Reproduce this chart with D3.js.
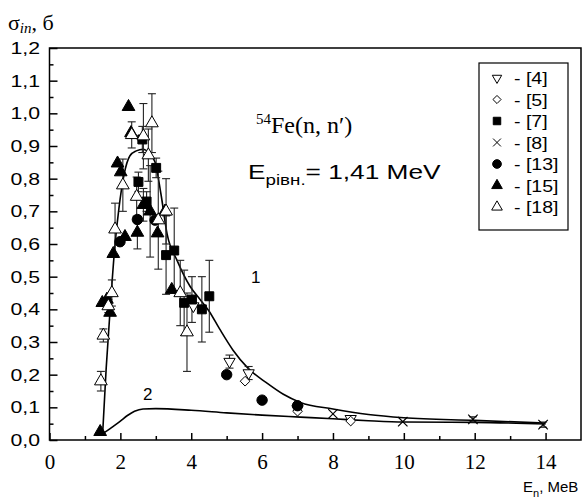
<!DOCTYPE html>
<html>
<head>
<meta charset="utf-8">
<script src="https://cdn.jsdelivr.net/npm/d3@7"></script>
<style>
  body { margin: 0; background: #fff; }
  svg { display: block; }
</style>
</head>
<body>
<div id="chart"></div>
<script>
// data: [E (MeV), sigma (b), error]
const ref4  = [[4.06,0.41,0],[5.08,0.24,0.02],[5.62,0.205,0.02],[7.0,0.095,0],[8.5,0.065,0]];
const ref5  = [[5.52,0.18,0],[7.0,0.088,0],[8.5,0.058,0]];
const ref7  = [[2.51,0.79,0.03],[2.62,0.92,0.04],[2.74,0.73,0.03],[3.01,0.833,0.03],[3.29,0.566,0.12],
               [3.52,0.58,0.13],[3.80,0.42,0.1],[4.02,0.43,0.07],[4.3,0.40,0.1],[4.51,0.44,0.11]];
const ref8  = [[8.0,0.08,0],[9.97,0.056,0],[11.95,0.063,0.008],[13.93,0.047,0.008]];
const ref13 = [[1.99,0.607,0],[2.48,0.675,0],[2.98,0.673,0],[5.0,0.2,0],[6.0,0.122,0],[7.0,0.105,0]];
const ref15 = [[1.43,0.025,0],[1.49,0.42,0],[1.62,0.43,0],[1.71,0.39,0],[1.80,0.57,0],[1.92,0.847,0],
               [2.01,0.82,0],[2.13,0.622,0],[2.23,1.02,0],[2.30,0.94,0],[2.48,0.635,0.05],[2.65,0.72,0.05],
               [2.84,0.70,0.14],[3.05,0.633,0],[3.26,0.70,0],[3.45,0.46,0]];
const ref18 = [[1.45,0.18,0.03],[1.52,0.32,0.02],[1.66,0.41,0.02],[1.76,0.45,0.04],[1.85,0.645,0.08],
               [2.07,0.78,0.08],[2.32,0.934,0.04],[2.46,0.745,0.06],[2.65,0.93,0.1],[2.79,0.872,0.08],
               [2.89,0.97,0.09],[3.07,0.673,0.15],[3.29,0.70,0.1],[3.69,0.45,0.1],[3.88,0.33,0.12]];

const curve1 = [[1.5,0.02],[1.6,0.22],[1.73,0.43],[1.85,0.6],[1.96,0.71],[2.1,0.81],[2.27,0.87],[2.45,0.885],
                [2.64,0.89],[2.8,0.88],[2.98,0.85],[3.15,0.75],[3.32,0.63],[3.6,0.55],[3.97,0.47],[4.25,0.43],
                [4.5,0.395],[4.8,0.34],[5.18,0.275],[5.6,0.22],[6.14,0.174],[6.6,0.14],[7.08,0.115],[8.0,0.095],
                [9.0,0.078],[10,0.068],[12,0.06],[14,0.052]];
const curve2 = [[1.5,0.02],[1.65,0.03],[1.8,0.042],[2.0,0.058],[2.2,0.075],[2.4,0.088],[2.64,0.095],[3.0,0.096],
                [4.0,0.091],[5.0,0.083],[6.0,0.076],[7.08,0.07],[8.0,0.065],[9.0,0.059],[10,0.055],[12,0.054],[14,0.049]];

const xMajor = [0,2,4,6,8,10,12,14];
const xMinor = [1,3,5,7,9,11,13];
const yMajor = [0,0.1,0.2,0.3,0.4,0.5,0.6,0.7,0.8,0.9,1.0,1.1,1.2];
const yMinor = [0.05,0.15,0.25,0.35,0.45,0.55,0.65,0.75,0.85,0.95,1.05,1.15];

const legendNames = ["- [4]","- [5]","- [7]","- [8]","- [13]","- [15]","- [18]"];

const W = 584, H = 500;
const x = d3.scaleLinear().domain([0,15]).range([49.5,581]);
const y = d3.scaleLinear().domain([0,1.2]).range([440,48]);

const svg = d3.select("#chart").append("svg")
  .attr("width", W).attr("height", H)
  .attr("viewBox", `0 0 ${W} ${H}`);

const fmt = v => d3.format(".1f")(v).replace(".", ",");
const serif = "'Liberation Serif', 'Times New Roman', serif";
const sans = "'Liberation Sans', Arial, sans-serif";

// x axis
const xAxis = svg.append("g").attr("transform", `translate(0,440)`)
  .call(d3.axisBottom(x).tickValues(xMajor).tickSizeInner(-7).tickSizeOuter(0).tickPadding(14).tickFormat(d3.format("d")));
xAxis.select(".domain").remove();
xAxis.selectAll("line").attr("stroke","#000").attr("stroke-width",1.5);
xAxis.selectAll("text").attr("font-family",serif).attr("font-size",21).attr("fill","#000");
svg.append("g").attr("transform", `translate(0,440)`)
  .call(d3.axisBottom(x).tickValues(xMinor).tickSizeInner(-4).tickSizeOuter(0).tickFormat(""))
  .call(g => g.select(".domain").remove())
  .selectAll("line").attr("stroke","#000").attr("stroke-width",1.5);

// y axis
const yAxis = svg.append("g").attr("transform", `translate(49.5,0)`)
  .call(d3.axisLeft(y).tickValues(yMajor).tickSizeInner(-8).tickSizeOuter(0).tickFormat(""));
yAxis.select(".domain").remove();
yAxis.selectAll("line").attr("stroke","#000").attr("stroke-width",1.5);
svg.append("g").attr("transform", `translate(49.5,0)`)
  .call(d3.axisLeft(y).tickValues(yMinor).tickSizeInner(-4).tickSizeOuter(0).tickFormat(""))
  .call(g => g.select(".domain").remove())
  .selectAll("line").attr("stroke","#000").attr("stroke-width",1.5);

svg.append("g").selectAll("text").data(yMajor).join("text")
  .attr("transform", d => `translate(40,${y(d) + 6}) scale(1.25,1)`)
  .attr("text-anchor","end")
  .attr("font-family",sans)
  .attr("font-size",17)
  .text(fmt);

// frame
svg.append("rect")
  .attr("x", x(0)).attr("y", y(1.2))
  .attr("width", x(15) - x(0)).attr("height", y(0) - y(1.2))
  .attr("fill","none").attr("stroke","#000").attr("stroke-width",1.5);

// curves
const line = d3.line().x(d => x(d[0])).y(d => y(d[1])).curve(d3.curveMonotoneX);
[curve1, curve2].forEach(c => {
  svg.append("path").datum(c).attr("d", line)
    .attr("fill","none").attr("stroke","#000").attr("stroke-width",1.6);
});

// series
const series = [
  { data: ref4,  type: d3.symbolTriangle, size: 55, fill: "#fff", rot: 180 },
  { data: ref5,  type: d3.symbolDiamond2, size: 60, fill: "#fff", rot: 0 },
  { data: ref7,  type: d3.symbolSquare,   size: 80, fill: "#000", rot: 0 },
  { data: ref8,  type: d3.symbolTimes,    size: 60, fill: "none", rot: 0 },
  { data: ref13, type: d3.symbolCircle,   size: 85, fill: "#000", rot: 0 },
  { data: ref15, type: d3.symbolTriangle, size: 70, fill: "#000", rot: 0 },
  { data: ref18, type: d3.symbolTriangle, size: 70, fill: "#fff", rot: 0 }
];

const errG = svg.append("g").attr("stroke","#222").attr("stroke-width",1.1);
series.forEach(s => {
  s.data.filter(d => d[2] > 0).forEach(d => {
    const cx = x(d[0]);
    errG.append("line").attr("x1",cx).attr("x2",cx).attr("y1",y(d[1]-d[2])).attr("y2",y(d[1]+d[2]));
    errG.append("line").attr("x1",cx-4).attr("x2",cx+4).attr("y1",y(d[1]-d[2])).attr("y2",y(d[1]-d[2]));
    errG.append("line").attr("x1",cx-4).attr("x2",cx+4).attr("y1",y(d[1]+d[2])).attr("y2",y(d[1]+d[2]));
  });
});

series.forEach(s => {
  svg.append("g").selectAll("path").data(s.data).join("path")
    .attr("d", d3.symbol().type(s.type).size(s.size))
    .attr("transform", d => `translate(${x(d[0])},${y(d[1])}) rotate(${s.rot})`)
    .attr("fill", s.fill)
    .attr("stroke","#000")
    .attr("stroke-width", s.fill === "none" ? 1.2 : 1);
});

// legend
const leg = svg.append("g");
leg.append("rect").attr("x",479).attr("y",63).attr("width",89).attr("height",167)
  .attr("fill","#fff").attr("stroke","#000").attr("stroke-width",1.2);
series.forEach((s, i) => {
  const ly = 78 + i * 21.5;
  leg.append("path")
    .attr("d", d3.symbol().type(s.type).size(s.size * 0.7))
    .attr("transform", `translate(497,${ly}) rotate(${s.rot})`)
    .attr("fill", s.fill).attr("stroke","#000").attr("stroke-width",1);
  leg.append("text")
    .attr("transform", `translate(514,${ly + 6}) scale(1.15,1)`)
    .attr("font-family",sans)
    .attr("font-size",17)
    .text(legendNames[i]);
});

// annotations
const t1 = svg.append("text").attr("x",256).attr("y",133).attr("font-family",serif).attr("font-size",24);
t1.append("tspan").attr("font-size",15).attr("dy",-9).text("54");
t1.append("tspan").attr("dy",9).text("Fe(n, n\u2032)");

const t2 = svg.append("text").attr("transform","translate(248,179) scale(1.25,1)").attr("font-family",sans).attr("font-size",21);
t2.append("tspan").text("E");
t2.append("tspan").attr("font-size",15).attr("dy",6).text("рівн.");
t2.append("tspan").attr("dy",-6).text("= 1,41 MeV");

svg.append("text").attr("x",251).attr("y",283).attr("font-family",sans).attr("font-size",17).text("1");
svg.append("text").attr("x",143).attr("y",400).attr("font-family",sans).attr("font-size",17).text("2");

// axis titles
const yt = svg.append("text").attr("x",8).attr("y",30).attr("font-family",serif).attr("font-size",22);
yt.append("tspan").text("σ");
yt.append("tspan").attr("font-size",15).attr("font-style","italic").attr("dy",3).text("in");
yt.append("tspan").attr("dy",-3).text(", б");

const xt = svg.append("text").attr("x",523).attr("y",492).attr("font-family",sans).attr("font-size",15);
xt.append("tspan").text("E");
xt.append("tspan").attr("font-size",11).attr("dy",5).text("n");
xt.append("tspan").attr("dy",-5).text(", MeB");
</script>
</body>
</html>
